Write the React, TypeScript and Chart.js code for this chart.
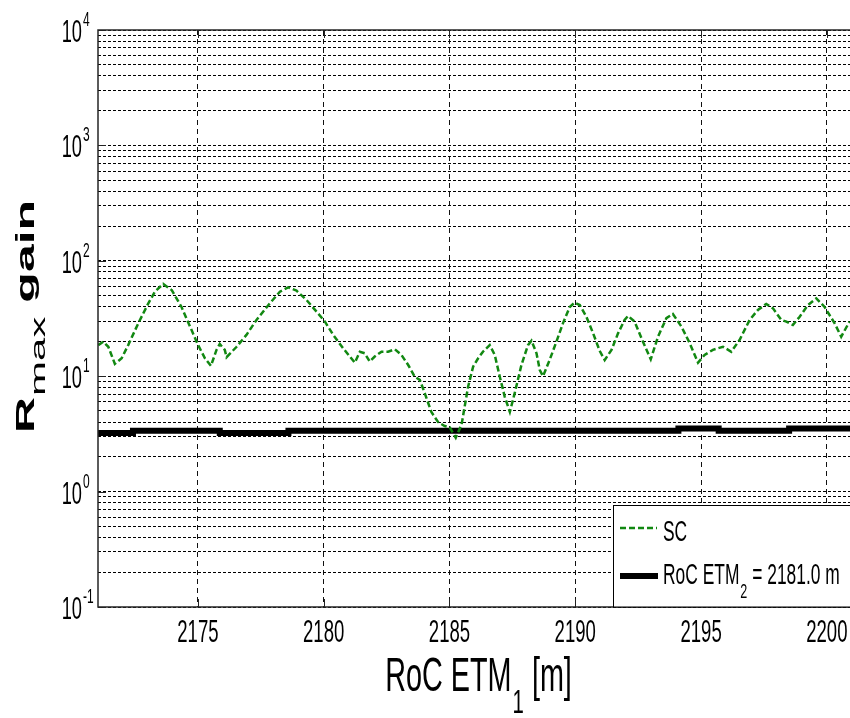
import React, { useEffect, useRef } from "react";
import Chart from "chart.js/auto";

// RoC ETM1 [m] positions and SC gain values (green dashed curve)
const scX = [
  2171.04, 2171.24, 2171.44, 2171.7, 2171.97, 2172.23, 2172.63, 2173.03, 2173.29, 2173.62,
  2173.96, 2174.35, 2174.75, 2175.01, 2175.28, 2175.52, 2175.74, 2175.87, 2176.07, 2176.14,
  2176.54, 2176.93, 2177.33, 2177.86, 2178.26, 2178.59, 2178.92, 2179.32, 2179.72, 2180.05,
  2180.38, 2180.77, 2181.04, 2181.24, 2181.44, 2181.63, 2181.83, 2182.03, 2182.3, 2182.56,
  2182.83, 2183.09, 2183.36, 2183.62, 2183.82, 2184.02, 2184.28, 2184.55, 2184.81, 2185.01,
  2185.25, 2185.48, 2185.74, 2185.94, 2186.14, 2186.33, 2186.6, 2186.8, 2187.0, 2187.2,
  2187.4, 2187.59, 2187.86, 2188.12, 2188.26, 2188.46, 2188.59, 2188.72, 2188.98, 2189.25,
  2189.51, 2189.78, 2189.98, 2190.18, 2190.44, 2190.71, 2190.97, 2191.17, 2191.44, 2191.7,
  2191.96, 2192.1, 2192.36, 2192.69, 2193.0, 2193.29, 2193.62, 2193.88, 2194.22, 2194.55,
  2194.88, 2195.14, 2195.47, 2195.87, 2196.2, 2196.53, 2196.93, 2197.26, 2197.59, 2197.86,
  2198.19, 2198.39, 2198.65, 2198.92, 2199.25, 2199.58, 2199.91, 2200.31, 2200.57, 2200.9,
];
const scY = [
  18.6, 19.9, 18.0, 12.8, 14.3, 18.6, 28.7, 42.8, 54, 63,
  55.8, 39.8, 25.1, 18.6, 14.3, 12.3, 16.9, 19.0, 16.9, 14.6,
  18.0, 22.8, 30.7, 42.8, 54, 58.9, 55.1, 45.7, 36.2, 29.7,
  22.8, 17.5, 14.8, 13.1, 16.3, 15.8, 13.4, 14.8, 16.3, 16.3,
  17.1, 15.3, 12.5, 9.9, 9.3, 7.1, 4.9, 4.0, 3.7, 3.6,
  2.93, 3.8, 8.1, 12.1, 14.3, 16.3, 18.6, 15.3, 9.9, 6.6,
  4.9, 7.1, 12.5, 18.6, 20.3, 15.8, 11.3, 10.0, 13.8, 19.9,
  28.7, 39.8, 43.4, 41.4, 32.8, 23.5, 16.6, 13.8, 16.9, 23.5,
  30.7, 33.3, 29.7, 19.9, 14.0, 22, 31.8, 34.6, 26.9, 19.3,
  13.1, 15.3, 16.9, 18.0, 16.3, 20.6, 30.7, 37.5, 42.3, 38.7,
  30.7, 29.7, 27.8, 32.8, 41.4, 47.3, 39.8, 28.7, 22, 29.7,
];

// Reference line (RoC ETM2 = 2181.0 m), stepped
const refX = [2171.03, 2172.42, 2175.87, 2178.6, 2194.1, 2195.7, 2198.5, 2200.92];
const refY = [3.22, 3.36, 3.22, 3.36, 3.52, 3.36, 3.52, 3.52];

const xTickValues = [2175, 2180, 2185, 2190, 2195, 2200];
const yDecades = [-1, 0, 1, 2, 3, 4];
const legendSC = "SC";
const legendRef = ["RoC ETM", "2", " = 2181.0 m"];
const xTitle = ["RoC ETM", "1", " [m]"];
const yTitle = ["R", "max", " gain"];

const X_MIN = 2171.03;
const X_MAX = 2200.92;
const FONT = '"Liberation Sans", Arial, sans-serif';

function sText(ctx: CanvasRenderingContext2D, s: string, x: number, y: number, size: number, sx: number, align: CanvasTextAlign = "left", weight = "normal") {
  ctx.save();
  ctx.translate(x, y);
  ctx.scale(sx, 1);
  ctx.font = `${weight} ${size}px ${FONT}`;
  ctx.textAlign = align;
  ctx.textBaseline = "alphabetic";
  ctx.fillStyle = "#000";
  ctx.fillText(s, 0, 0);
  const w = ctx.measureText(s).width * sx;
  ctx.restore();
  return w;
}
function measure(ctx: CanvasRenderingContext2D, s: string, size: number, sx: number, weight = "normal") {
  ctx.save();
  ctx.font = `${weight} ${size}px ${FONT}`;
  const w = ctx.measureText(s).width * sx;
  ctx.restore();
  return w;
}

const decorPlugin = {
  id: "decor",
  afterDraw(chart: any) {
    const ctx: CanvasRenderingContext2D = chart.ctx;
    const ca = chart.chartArea;
    const xs = chart.scales.x;
    const ys = chart.scales.y;
    ctx.save();
    // frame
    ctx.strokeStyle = "#262626";
    ctx.lineWidth = 1.5;
    ctx.beginPath();
    ctx.moveTo(ca.right + 5, ca.top);
    ctx.lineTo(ca.left, ca.top);
    ctx.lineTo(ca.left, ca.bottom);
    ctx.lineTo(ca.right + 5, ca.bottom);
    ctx.stroke();
    // tick marks
    ctx.lineWidth = 1;
    ctx.strokeStyle = "#222";
    ctx.beginPath();
    for (const v of xTickValues) {
      const px = Math.round(xs.getPixelForValue(v)) + 0.5;
      ctx.moveTo(px, ca.bottom);
      ctx.lineTo(px, ca.bottom - 8);
      ctx.moveTo(px, ca.top);
      ctx.lineTo(px, ca.top + 8);
    }
    for (const d of yDecades) {
      const py = Math.round(ys.getPixelForValue(Math.pow(10, d))) + 0.5;
      ctx.moveTo(ca.left, py);
      ctx.lineTo(ca.left + 8, py);
    }
    ctx.stroke();
    ctx.restore();

    // x tick labels
    for (const v of xTickValues) {
      const px = xs.getPixelForValue(v);
      sText(ctx, String(v), px, ca.bottom + 35, 32, 0.58, "center");
    }
    // y tick labels
    for (const d of yDecades) {
      const py = ys.getPixelForValue(Math.pow(10, d));
      sText(ctx, "10", 82, py + 12, 32, 0.57, "right");
      sText(ctx, String(d), 83, py - 4, 20, 0.6, "left");
    }

    // x title
    {
      const sx = 0.6;
      const w0 = measure(ctx, xTitle[0], 48, sx);
      const w1 = measure(ctx, xTitle[1], 34, sx);
      const w2 = measure(ctx, xTitle[2], 48, sx);
      const cx = 478;
      let x0 = cx - (w0 + w1 + w2) / 2;
      const base = ca.bottom + 84;
      x0 += sText(ctx, xTitle[0], x0, base, 48, sx);
      x0 += sText(ctx, xTitle[1], x0 + 1, base + 22, 34, sx) + 1;
      sText(ctx, xTitle[2], x0, base, 48, sx);
    }

    // y title (rotated)
    {
      ctx.save();
      ctx.translate(34, 433);
      ctx.rotate(-Math.PI / 2);
      const sy = 0.5;
      const drawPart = (s: string, x: number, yOff: number, size: number, weight: string) => {
        ctx.save();
        ctx.translate(x, yOff);
        ctx.scale(1, sy);
        ctx.font = `${weight} ${size}px ${FONT}`;
        ctx.fillStyle = "#000";
        ctx.textBaseline = "alphabetic";
        ctx.textAlign = "left";
        ctx.fillText(s, 0, 0);
        const w = ctx.measureText(s).width;
        ctx.restore();
        return w;
      };
      let x = 0;
      x += drawPart(yTitle[0], x, 0, 50, "bold");
      x += drawPart(yTitle[1], x + 1, 11, 42, "normal") + 1;
      drawPart(yTitle[2], x, 0, 50, "bold");
      ctx.restore();
    }

    // legend
    {
      ctx.save();
      const lx = 613.5, ly = 505.5;
      ctx.fillStyle = "#fff";
      ctx.fillRect(lx, ly, ca.right + 10 - lx, ca.bottom - ly);
      ctx.strokeStyle = "#000";
      ctx.lineWidth = 1;
      ctx.strokeRect(lx, ly, ca.right + 10 - lx, ca.bottom - ly);
      ctx.strokeStyle = "#118811";
      ctx.lineWidth = 2.5;
      ctx.setLineDash([6, 3]);
      ctx.beginPath();
      ctx.moveTo(620, 528);
      ctx.lineTo(657, 528);
      ctx.stroke();
      ctx.setLineDash([]);
      ctx.strokeStyle = "#000";
      ctx.lineWidth = 6;
      ctx.beginPath();
      ctx.moveTo(620, 576);
      ctx.lineTo(658, 576);
      ctx.stroke();
      ctx.restore();
      const fs = 29, sx = 0.6;
      sText(ctx, legendSC, 663, 541, fs, sx);
      let x = 663;
      x += sText(ctx, legendRef[0], x, 584, fs, sx);
      x += sText(ctx, legendRef[1], x + 1, 598, 21, sx) + 1;
      sText(ctx, legendRef[2], x, 584, fs, sx);
    }
  },
};

export default function App() {
  const ref = useRef<HTMLCanvasElement | null>(null);
  useEffect(() => {
    if (!ref.current) return;
    const yGrid: number[] = [];
    for (const d of yDecades) {
      for (let m = 1; m <= 9; m++) {
        const v = m * Math.pow(10, d);
        if (v <= 10000 * 1.0001) yGrid.push(v);
      }
    }
    const chart = new Chart(ref.current, {
      type: "line",
      data: {
        datasets: [
          {
            label: "SC",
            data: scX.map((x, i) => ({ x, y: scY[i] })),
            borderColor: "#118811",
            borderWidth: 2.5,
            borderDash: [6, 3],
            pointRadius: 0,
            tension: 0,
            fill: false,
          },
          {
            label: "RoC ETM2 = 2181.0 m",
            data: refX.map((x, i) => ({ x, y: refY[i] })),
            borderColor: "#000",
            borderWidth: 6,
            pointRadius: 0,
            stepped: "before",
            fill: false,
          },
        ],
      },
      options: {
        animation: false,
        responsive: false,
        devicePixelRatio: 1,
        layout: { padding: { left: 98, right: 0, top: 30, bottom: 111 } },
        plugins: { legend: { display: false }, tooltip: { enabled: false } },
        scales: {
          x: {
            type: "linear",
            min: X_MIN,
            max: X_MAX,
            afterBuildTicks: (s: any) => {
              s.ticks = xTickValues.map((v) => ({ value: v }));
            },
            afterFit: (s: any) => {
              s.height = 0;
            },
            ticks: { display: false },
            grid: { color: "#111", lineWidth: 1, drawTicks: false },
            border: { display: false, dash: [5, 4] },
          },
          y: {
            type: "logarithmic",
            min: 0.1,
            max: 10000,
            afterBuildTicks: (s: any) => {
              s.ticks = yGrid.map((v) => ({ value: v }));
            },
            afterFit: (s: any) => {
              s.width = 0;
            },
            ticks: { display: false },
            grid: { color: "#000", lineWidth: 1, drawTicks: false },
            border: { display: false, dash: [3, 2] },
          },
        },
      },
      plugins: [decorPlugin],
    });
    return () => chart.destroy();
  }, []);
  return (
    <div style={{ position: "fixed", left: 0, top: 0, width: 850, height: 718, background: "#fff" }}>
      <canvas ref={ref} width={850} height={718} />
    </div>
  );
}
